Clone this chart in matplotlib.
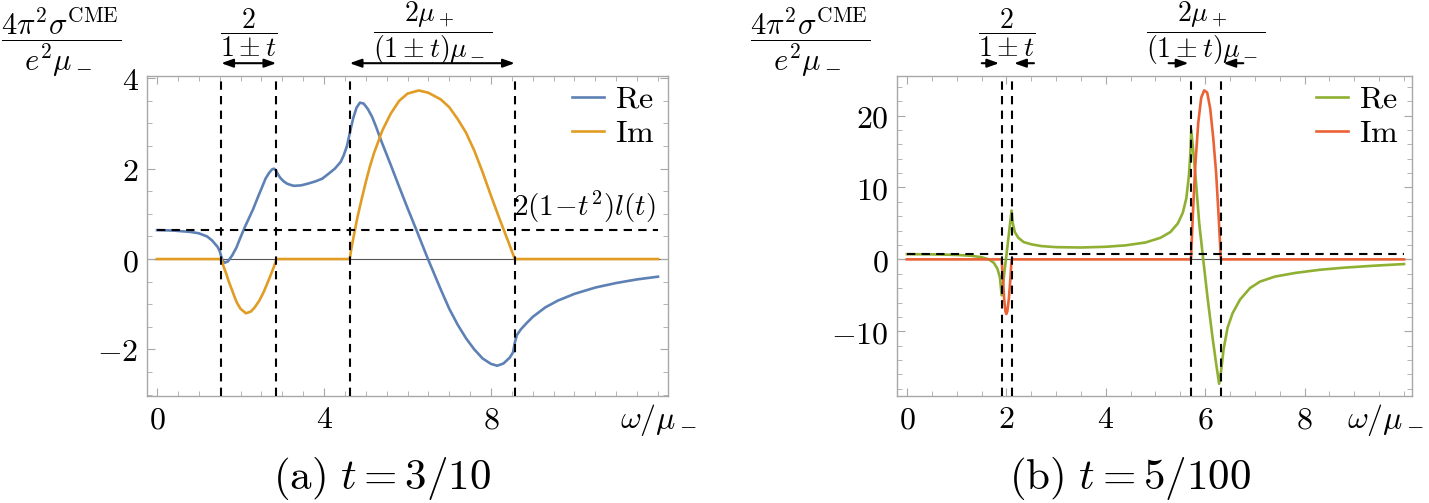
import numpy as np
import matplotlib
matplotlib.use('Agg')
import matplotlib.pyplot as plt
from matplotlib.ticker import MultipleLocator

plt.rcParams['mathtext.fontset'] = 'cm'
plt.rcParams['font.family'] = ['DejaVu Serif']

# ---- panel (a), t = 3/10 ----
re_a_x = [0.0, 0.4, 0.8, 1.0, 1.2, 1.32, 1.45, 1.5, 1.54, 1.58, 1.63, 1.7,
          1.8, 1.9, 2.0, 2.1, 2.2, 2.3, 2.43, 2.52, 2.6, 2.68, 2.75, 2.8,
          2.85, 2.9, 2.95, 3.02, 3.11, 3.2, 3.28, 3.45, 3.62, 3.8, 3.96,
          4.1, 4.26, 4.4, 4.47, 4.55, 4.62, 4.7, 4.78, 4.86, 4.95, 5.05,
          5.15, 5.25, 5.36, 5.6, 5.8, 6.0, 6.21, 6.49, 6.8, 7.0, 7.2, 7.4,
          7.6, 7.8, 8.0, 8.15, 8.3, 8.45, 8.53, 8.57, 8.62, 8.72, 8.85, 9.0,
          9.3, 9.6, 10.0, 10.5, 11.0, 11.5, 12.0]
re_a_y = [0.64, 0.63, 0.6, 0.57, 0.5, 0.41, 0.27, 0.18, 0.05, -0.05, -0.08,
          -0.05, 0.08, 0.25, 0.48, 0.7, 0.9, 1.1, 1.4, 1.6, 1.78, 1.9, 1.98,
          2.0, 1.96, 1.87, 1.8, 1.73, 1.67, 1.64, 1.62, 1.63, 1.67, 1.72,
          1.78, 1.88, 2.0, 2.15, 2.29, 2.5, 2.8, 3.12, 3.35, 3.46, 3.44,
          3.32, 3.15, 2.92, 2.64, 2.08, 1.6, 1.13, 0.65, 0.0, -0.68, -1.1,
          -1.45, -1.75, -2.0, -2.2, -2.32, -2.36, -2.31, -2.18, -2.06,
          -1.85, -1.68, -1.55, -1.42, -1.28, -1.07, -0.92, -0.77, -0.63,
          -0.53, -0.45, -0.39]

im_a_x = [0.0, 1.54, 1.6, 1.66, 1.72, 1.79, 1.85, 1.91, 2.0, 2.13, 2.25,
          2.34, 2.45, 2.55, 2.65, 2.72, 2.8, 2.86, 4.615, 4.65, 4.7, 4.8,
          4.9, 5.0, 5.1, 5.2, 5.4, 5.6, 5.8, 6.0, 6.27, 6.5, 6.8, 7.0, 7.2,
          7.4, 7.6, 7.8, 8.0, 8.2, 8.4, 8.57, 12.0]
im_a_y = [0.0, 0.0, -0.18, -0.33, -0.5, -0.67, -0.82, -0.96, -1.1, -1.2,
          -1.16, -1.07, -0.92, -0.74, -0.52, -0.36, -0.17, 0.0, 0.0, 0.2,
          0.45, 0.92, 1.32, 1.7, 2.05, 2.35, 2.85, 3.22, 3.5, 3.66, 3.73,
          3.68, 3.53, 3.36, 3.1, 2.8, 2.4, 1.92, 1.4, 0.9, 0.42, 0.0, 0.0]

lines_a = [1.538, 2.857, 4.615, 8.571]
level_a = 0.64

# ---- panel (b), t = 5/100 ----
re_b_x = [0.0, 0.5, 1.0, 1.3, 1.5, 1.65, 1.75, 1.82, 1.87, 1.905, 2.0,
          2.105, 2.13, 2.17, 2.24, 2.35, 2.5, 2.7, 3.0, 3.5, 4.0, 4.4, 4.8,
          5.1, 5.3, 5.45, 5.55, 5.62, 5.67, 5.7, 5.72, 5.8, 5.88, 5.96,
          6.05, 6.15, 6.22, 6.28, 6.32, 6.37, 6.45, 6.55, 6.7, 6.9, 7.1,
          7.4, 7.8, 8.3, 8.8, 9.4, 10.0]
re_b_y = [0.72, 0.7, 0.62, 0.5, 0.3, 0.0, -0.5, -1.3, -2.5, -5.0, 0.5,
          6.8, 5.0, 3.8, 3.0, 2.4, 2.1, 1.85, 1.7, 1.65, 1.75, 1.95, 2.35,
          3.0, 3.8, 5.0, 6.5, 8.5, 11.5, 14.5, 18.0, 12.0, 5.0, 0.0, -5.5,
          -11.0, -14.5, -17.3, -15.5, -12.5, -9.5, -7.5, -5.6, -4.0, -3.1,
          -2.4, -1.9, -1.45, -1.15, -0.88, -0.65]

im_b_x = [0.0, 1.905, 1.93, 1.955, 1.98, 2.0, 2.02, 2.05, 2.08, 2.105,
          5.714, 5.75, 5.8, 5.86, 5.92, 5.98, 6.04, 6.1, 6.16, 6.22, 6.27,
          6.316, 10.0]
im_b_y = [0.0, 0.0, -2.5, -5.5, -7.2, -7.6, -7.2, -5.5, -2.8, 0.0,
          0.0, 6.0, 13.0, 19.0, 22.5, 23.5, 23.2, 21.0, 17.0, 12.0, 6.0,
          0.0, 0.0]

lines_b = [1.905, 2.105, 5.714, 6.316]
level_b = 0.74

W, H = 1429, 503
fig = plt.figure(figsize=(W / 100, H / 100), dpi=100)
ax_a = fig.add_axes([147 / W, 107 / H, 521 / W, 320 / H])
ax_b = fig.add_axes([897 / W, 107 / H, 515 / W, 320 / H])

frame_col = '#a8a8a8'
fs = 23


def style(ax):
    for s in ax.spines.values():
        s.set_color(frame_col)
        s.set_linewidth(1.0)
    ax.tick_params(which='both', direction='in', top=True, right=True,
                   color=frame_col, labelsize=fs, pad=6)
    ax.tick_params(which='major', length=6)
    ax.tick_params(which='minor', length=3.5)
    ax.axhline(0, color='#555555', lw=0.8, zorder=1)


# panel a
style(ax_a)
ax_a.plot(re_a_x, re_a_y, color='#5E81B5', lw=1.9, label=r'$\mathrm{Re}$', zorder=3)
ax_a.plot(im_a_x, im_a_y, color='#E19C24', lw=1.9, label=r'$\mathrm{Im}$', zorder=3)
for v in lines_a:
    ax_a.axvline(v, color='k', ls=(0, (4, 3)), lw=1.5, zorder=4)
ax_a.hlines(level_a, re_a_x[0], re_a_x[-1], color='k', ls=(0, (4, 3)), lw=1.5, zorder=4)
ax_a.set_xlim(-0.24, 12.24)
ax_a.set_ylim(-3.03, 4.05)
ax_a.set_xticks([0, 4, 8], ['$0$', '$4$', '$8$'])
ax_a.xaxis.set_minor_locator(MultipleLocator(0.5))
ax_a.set_yticks([-2, 0, 2, 4], ['$-2$', '$0$', '$2$', '$4$'])
ax_a.yaxis.set_minor_locator(MultipleLocator(0.5))
ax_a.text(11.95, level_a + 0.12, r'$2(1\!-\!t^2)l(t)$', ha='right', va='bottom', fontsize=21)
ax_a.legend(loc='upper right', bbox_to_anchor=(0.975, 0.975), frameon=False,
            fontsize=fs, handlelength=1.0, handletextpad=0.35,
            labelspacing=0.1, borderaxespad=0, borderpad=0)

arrow_kw = dict(arrowstyle='<|-|>,head_width=0.25,head_length=0.7', color='k', lw=1.5,
                shrinkA=0, shrinkB=0)
ax_a.annotate('', xy=(lines_a[1], 1.04), xytext=(lines_a[0], 1.04),
              xycoords=('data', 'axes fraction'), arrowprops=arrow_kw,
              annotation_clip=False)
ax_a.annotate('', xy=(lines_a[3], 1.04), xytext=(lines_a[2], 1.04),
              xycoords=('data', 'axes fraction'), arrowprops=arrow_kw,
              annotation_clip=False)
top_y = 1.135
top_fs = 20
ax_a.text((lines_a[0] + lines_a[1]) / 2, top_y, r'$\dfrac{2}{1\pm t}$',
          transform=ax_a.get_xaxis_transform(), ha='center', va='center', fontsize=top_fs)
ax_a.text((lines_a[2] + lines_a[3]) / 2, top_y, r'$\dfrac{2\mu_+}{(1\pm t)\mu_-}$',
          transform=ax_a.get_xaxis_transform(), ha='center', va='center', fontsize=top_fs)

# panel b
style(ax_b)
ax_b.plot(re_b_x, re_b_y, color='#8FB032', lw=1.9, label=r'$\mathrm{Re}$', zorder=3)
ax_b.plot(im_b_x, im_b_y, color='#EB6235', lw=1.9, label=r'$\mathrm{Im}$', zorder=3)
for v in lines_b:
    ax_b.axvline(v, color='k', ls=(0, (4, 3)), lw=1.5, zorder=4)
ax_b.hlines(level_b, re_b_x[0], re_b_x[-1], color='k', ls=(0, (4, 3)), lw=1.5, zorder=4)
ax_b.set_xlim(-0.2, 10.16)
ax_b.set_ylim(-19.0, 25.5)
ax_b.set_xticks([0, 2, 4, 6, 8], ['$0$', '$2$', '$4$', '$6$', '$8$'])
ax_b.xaxis.set_minor_locator(MultipleLocator(0.5))
ax_b.set_yticks([-10, 0, 10, 20], ['$-10$', '$0$', '$10$', '$20$'])
ax_b.yaxis.set_minor_locator(MultipleLocator(2))
ax_b.legend(loc='upper right', bbox_to_anchor=(0.975, 0.975), frameon=False,
            fontsize=fs, handlelength=1.0, handletextpad=0.35,
            labelspacing=0.1, borderaxespad=0, borderpad=0)

in_kw = dict(arrowstyle='-|>,head_width=0.25,head_length=0.7', color='k', lw=1.5,
             shrinkA=0, shrinkB=0)
for xa, xb in [(lines_b[0] - 0.4, lines_b[0] - 0.05), (lines_b[1] + 0.45, lines_b[1] + 0.05),
               (lines_b[2] - 0.45, lines_b[2] - 0.05), (lines_b[3] + 0.45, lines_b[3] + 0.05)]:
    ax_b.annotate('', xy=(xb, 1.04), xytext=(xa, 1.04),
                  xycoords=('data', 'axes fraction'), arrowprops=in_kw,
                  annotation_clip=False)
ax_b.text((lines_b[0] + lines_b[1]) / 2, top_y, r'$\dfrac{2}{1\pm t}$',
          transform=ax_b.get_xaxis_transform(), ha='center', va='center', fontsize=top_fs)
ax_b.text((lines_b[2] + lines_b[3]) / 2, top_y, r'$\dfrac{2\mu_+}{(1\pm t)\mu_-}$',
          transform=ax_b.get_xaxis_transform(), ha='center', va='center', fontsize=top_fs)

# axis labels and captions
ylab = r'$\dfrac{4\pi^2\sigma^{\mathrm{CME}}}{e^2\mu_-}$'
fig.text(1 / W, 1 - 42 / H, ylab, ha='left', va='center', fontsize=22)
fig.text(750 / W, 1 - 42 / H, ylab, ha='left', va='center', fontsize=22)
fig.text(658 / W, 1 - 420 / H, r'$\omega/\mu_-$', ha='center', va='center', fontsize=23)
fig.text(1385 / W, 1 - 420 / H, r'$\omega/\mu_-$', ha='center', va='center', fontsize=23)
fig.text(382 / W, 1 - 478 / H, r'$\mathrm{(a)}\ t=3/10$', ha='center', va='center', fontsize=31)
fig.text(1130 / W, 1 - 478 / H, r'$\mathrm{(b)}\ t=5/100$', ha='center', va='center', fontsize=31)

fig.savefig('out.png', dpi=100)
